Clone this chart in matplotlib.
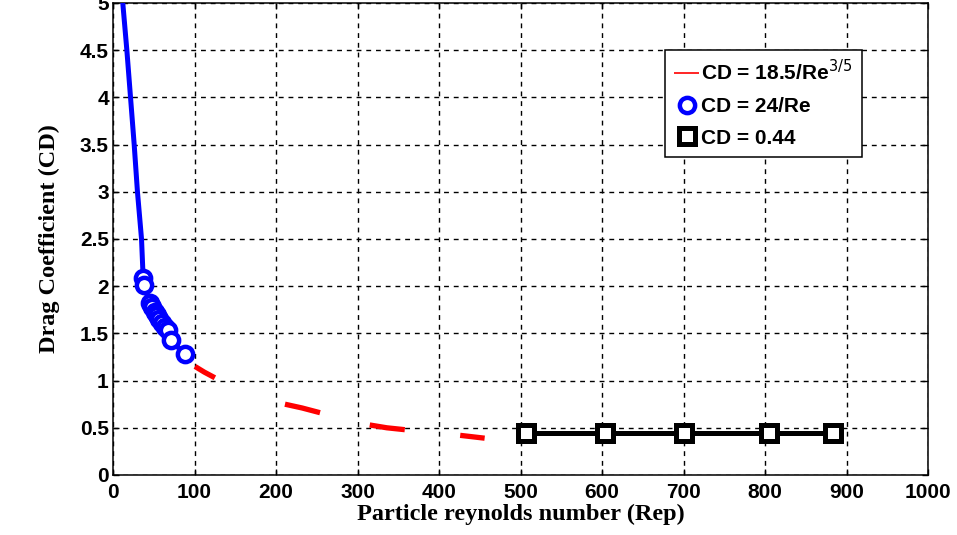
import numpy as np
import matplotlib
matplotlib.use("Agg")
import matplotlib.pyplot as plt

# ---- data ----
re_stokes = [12, 17, 21.5, 26, 30, 35, 37, 38, 45, 48, 51, 54, 57, 60, 64, 68, 71, 88]
cd_stokes = [5.0, 4.5, 4.0, 3.5, 3.0, 2.5, 2.09, 2.01, 1.82, 1.78, 1.73, 1.69, 1.65, 1.61, 1.57, 1.54, 1.43, 1.28]
stokes_marked = list(range(6, 18))

re_inter = [100.6, 112, 125, np.nan, 211, 232, 254, np.nan, 315, 336, 358, np.nan, 426, 456]
cd_inter = [1.15, 1.09, 1.03, np.nan, 0.75, 0.71, 0.66, np.nan, 0.53, 0.50, 0.48, np.nan, 0.42, 0.39]

re_newton = [507, 604, 701, 805, 884]
cd_newton = [0.44, 0.44, 0.44, 0.44, 0.44]

labels = [r"CD = 18.5/Re$^{3/5}$", "CD = 24/Re", "CD = 0.44"]
xticks = list(range(0, 1001, 100))
yticks = [0, 0.5, 1, 1.5, 2, 2.5, 3, 3.5, 4, 4.5, 5]
ytick_labels = ["0", "0.5", "1", "1.5", "2", "2.5", "3", "3.5", "4", "4.5", "5"]

fig = plt.figure(figsize=(9.57, 5.35), dpi=100)
ax = fig.add_axes([113/957, 60/535, (928-113)/957, (475-3)/535])

ax.plot(re_inter, cd_inter, color="red", lw=3.8, solid_capstyle="butt", label=labels[0], zorder=3)
ax.plot(re_stokes, cd_stokes, color="blue", lw=3.6, marker="o", markevery=stokes_marked,
        markersize=11, markerfacecolor="white", markeredgecolor="blue", markeredgewidth=3.2,
        label=labels[1], zorder=4)
ax.plot(re_newton, cd_newton, color="black", lw=3.6, marker="s", markersize=11.5,
        markerfacecolor="white", markeredgecolor="black", markeredgewidth=3.6,
        label=labels[2], zorder=4)

ax.set_xlim(0, 1000)
ax.set_ylim(0, 5)
ax.set_xticks(xticks)
ax.set_yticks(yticks)
ax.set_yticklabels(ytick_labels)
ax.grid(True, color="black", linestyle=(0, (3.5, 3.5)), linewidth=1.0)
ax.tick_params(direction="in", top=True, right=True, length=4, width=1)
ax.tick_params(axis="x", pad=6)
ax.tick_params(axis="y", pad=3)
for lab in ax.get_xticklabels() + ax.get_yticklabels():
    lab.set_fontfamily("Liberation Sans"); lab.set_fontweight("bold"); lab.set_fontsize(15)
for s in ax.spines.values():
    s.set_linewidth(1.1)

ax.set_xlabel("Particle reynolds number (Rep)", fontfamily="Liberation Serif",
              fontweight="bold", fontsize=17.5, labelpad=1)
ax.set_ylabel("Drag Coefficient (CD)", fontfamily="Liberation Serif",
              fontweight="bold", fontsize=17.5, labelpad=14)

leg = ax.legend(loc="upper left", bbox_to_anchor=((665-113)/815, (475-50)/472),
                prop={"family": "Liberation Sans", "weight": "bold", "size": 15},
                handlelength=1.2, handletextpad=0.1, numpoints=1, fancybox=False,
                framealpha=1, edgecolor="black", borderpad=0.45, labelspacing=0.6,
                borderaxespad=0)
leg.get_frame().set_linewidth(1.1)
lines = leg.get_lines()
lines[0].set_linewidth(1.2)
lines[1].set_linestyle("none")
lines[2].set_linestyle("none")

fig.savefig("out.png", dpi=100)
